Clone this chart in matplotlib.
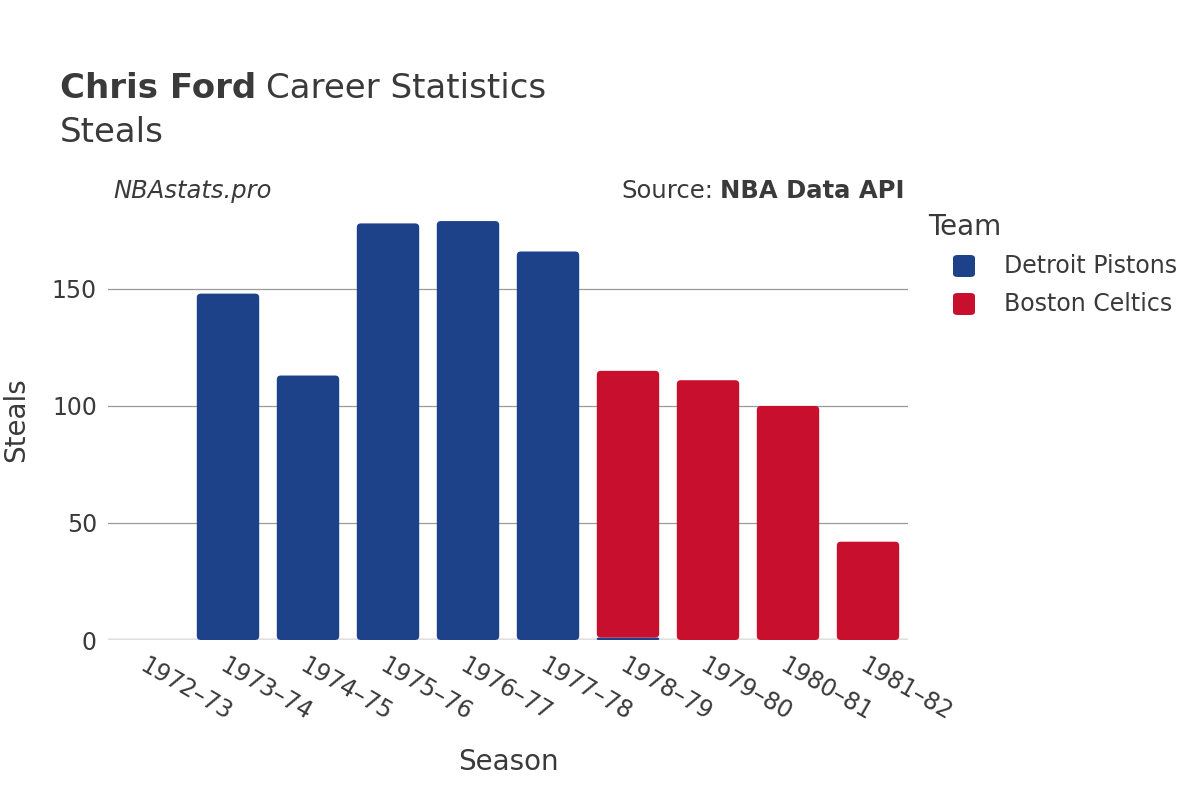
import matplotlib
matplotlib.use("Agg")
import matplotlib.pyplot as plt
from matplotlib.patches import FancyBboxPatch

SEASONS = ["1972–73", "1973–74", "1974–75", "1975–76", "1976–77",
           "1977–78", "1978–79", "1979–80", "1980–81", "1981–82"]
DETROIT = [0, 148, 113, 178, 179, 166, 1, 0, 0, 0]
BOSTON = [0, 0, 0, 0, 0, 0, 114, 111, 100, 42]
TEAMS = ["Detroit Pistons", "Boston Celtics"]
COL = {"Detroit Pistons": "#1d428a", "Boston Celtics": "#c8102e"}
TXT = "#3a3a3a"

fig = plt.figure(figsize=(12, 8), dpi=100)
# plot area in pixels: x 108..908, y 200..640 (from top)
ax = fig.add_axes([108/1200, 160/800, 800/1200, 440/800])
ymax = 188
ax.set_xlim(-0.5, len(SEASONS)-0.5); ax.set_ylim(0, ymax)

w = 0.78
px_x = 800/len(SEASONS); px_y = 440/ymax
asp = px_x/px_y
bottoms = [0]*len(SEASONS)
for team, vals in [("Detroit Pistons", DETROIT), ("Boston Celtics", BOSTON)]:
    bars = ax.bar(range(len(SEASONS)), vals, w, bottom=bottoms, color=COL[team])
    for b in bars:
        b.set_visible(False)
        h = b.get_height()
        if h <= 0:
            continue
        r = min(0.05, h*px_y/px_x/2*0.9)
        ax.add_patch(FancyBboxPatch((b.get_x(), b.get_y()), b.get_width(), h,
                                    boxstyle=f"round,pad=0,rounding_size={r}",
                                    mutation_aspect=asp, fc=COL[team], ec="none", zorder=3))
    bottoms = [a+v for a, v in zip(bottoms, vals)]

for s in ax.spines.values(): s.set_visible(False)
ax.set_yticks([0, 50, 100, 150])
ax.grid(axis="y", color="#9a9a9a", lw=0.9, zorder=0)
ax.axhline(0, color="#ebebeb", lw=3, zorder=1)
ax.tick_params(axis="both", length=0, labelsize=17, colors=TXT, pad=8)
ax.set_xticks(range(len(SEASONS)))
ax.set_xticklabels(SEASONS, rotation=-30, ha="left", rotation_mode="anchor")
ax.tick_params(axis="x", pad=10)
ax.set_xlabel("Season", fontsize=20, color=TXT)
ax.xaxis.set_label_coords(0.5, -108/440)
ax.set_ylabel("Steals", fontsize=20, color=TXT)
ax.yaxis.set_label_coords(-78/800, 0.5)

t1 = fig.text(60/1200, 1-89/800, "Chris Ford", fontsize=24.5, fontweight="bold", color=TXT, va="center")
fig.canvas.draw()
bb = t1.get_window_extent()
fig.text(bb.x1/1200 + 10/1200, 1-89/800, "Career Statistics", fontsize=24.5, color=TXT, va="center")
fig.text(60/1200, 1-132/800, "Steals", fontsize=24.5, color=TXT, va="center")
fig.text(113/1200, 1-191/800, "NBAstats.pro", fontsize=17.5, style="italic", color=TXT, va="center")
src = fig.text(905/1200, 1-191/800, "NBA Data API", fontsize=17.5, fontweight="bold", color=TXT, va="center", ha="right")
fig.canvas.draw()
sb = src.get_window_extent()
fig.text(sb.x0/1200 - 7/1200, 1-191/800, "Source:", fontsize=17.5, color=TXT, va="center", ha="right")

fig.text(928/1200, 1-227/800, "Team", fontsize=20, color=TXT, va="center")
for i, team in enumerate(TEAMS):
    y = 266 + i*38
    fig.patches.append(FancyBboxPatch((953/1200, 1-(y+11)/800), 22/1200, 22/800,
                                      boxstyle="round,pad=0,rounding_size=0.004",
                                      transform=fig.transFigure, fc=COL[team], ec="none"))
    fig.text(1004/1200, 1-y/800, team, fontsize=17, color=TXT, va="center")

fig.savefig("out.png", dpi=100)
